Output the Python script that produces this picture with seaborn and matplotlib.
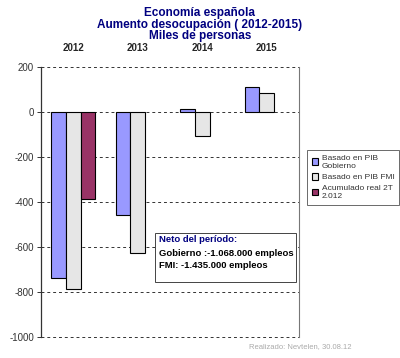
import numpy as np
import pandas as pd
import matplotlib
matplotlib.use("Agg")
import matplotlib.pyplot as plt
import seaborn as sns

years = ["2012", "2013", "2014", "2015"]
series = ["Basado en PIB\nGobierno", "Basado en PIB FMI", "Acumulado real 2T\n2.012"]
gobierno = [-736, -456, 13, 111]
fmi = [-787, -627, -105, 84]
acumulado = [-388, None, None, None]
colors = ["#9999FF", "#E6E6E6", "#993366"]
yticks = [200, 0, -200, -400, -600, -800, -1000]

rows = []
for s, vals in zip(series, [gobierno, fmi, acumulado]):
    for y, v in zip(years, vals):
        if v is not None:
            rows.append({"year": y, "serie": s, "value": v})
df = pd.DataFrame(rows)

sns.set_style("white")
plt.rcParams["font.family"] = ["Liberation Sans", "DejaVu Sans"]

fig = plt.figure(figsize=(4.0, 3.58), dpi=100)
ax = fig.add_axes([0.1025, 0.0587, 0.645, 0.7541])

sns.barplot(data=df, x="year", y="value", hue="serie", order=years,
            hue_order=series, palette=colors, width=0.675, dodge=True,
            edgecolor="black", linewidth=0.8, saturation=1, ax=ax, zorder=3)

ax.set_ylim(-1000, 200)
ax.set_xlim(-0.5, 3.5)
ax.set_yticks(yticks)
ax.set_yticklabels([str(t) for t in yticks], fontsize=7, color="#333333")
for t in yticks:
    ax.axhline(t, color="#333333", lw=0.7, ls=(0, (3, 3)), zorder=1, clip_on=False)
ax.xaxis.tick_top()
ax.tick_params(axis="x", length=0, pad=10, labelsize=7)
for lab in ax.get_xticklabels():
    lab.set_fontweight("bold")
ax.tick_params(axis="y", length=3, width=0.7, color="#333333", left=True, pad=2)
ax.set_xlabel("")
ax.set_ylabel("")
for sp in ["top", "bottom"]:
    ax.spines[sp].set_visible(False)
ax.spines["left"].set_color("#333333")
ax.spines["left"].set_linewidth(0.9)
ax.spines["right"].set_color("#777777")
ax.spines["right"].set_linewidth(0.8)

leg = ax.legend(loc="upper left", bbox_to_anchor=(307 / 400, 1 - 150 / 358),
                bbox_transform=fig.transFigure, fontsize=6,
                frameon=True, fancybox=False, edgecolor="#444444",
                handlelength=0.8, handleheight=0.8, handletextpad=0.4,
                labelspacing=0.45, borderpad=0.55, borderaxespad=0,
                labelcolor="#333333")
leg.get_frame().set_linewidth(0.7)

fig.text(0.5, 0.963, "Economía española", ha="center", va="center",
         fontsize=8.5, fontweight="bold", color="#000080")
fig.text(0.5, 0.931, "Aumento desocupación ( 2012-2015)", ha="center", va="center",
         fontsize=8.5, fontweight="bold", color="#000080")
fig.text(0.5, 0.899, "Miles de personas", ha="center", va="center",
         fontsize=8.5, fontweight="bold", color="#000080")

# annotation box
bx0, by0 = 155 / 400, 1 - 282 / 358
bw, bh = (296 - 155) / 400, (282 - 233) / 358
fig.patches.append(plt.Rectangle((bx0, by0), bw, bh, transform=fig.transFigure,
                                 facecolor="white", edgecolor="#444444", lw=0.7, zorder=5))
fig.text(159 / 400, 1 - 240 / 358, "Neto del período:", fontsize=6.8, fontweight="bold",
         color="#000080", va="center", zorder=6)
fig.text(159 / 400, 1 - 253 / 358, "Gobierno :-1.068.000 empleos", fontsize=6.8,
         fontweight="bold", color="black", va="center", zorder=6)
fig.text(159 / 400, 1 - 266 / 358, "FMI: -1.435.000 empleos", fontsize=6.8,
         fontweight="bold", color="black", va="center", zorder=6)

fig.text(300 / 400, 1 - 347 / 358, "Realizado: Nevtelen, 30.08.12", ha="center",
         va="center", fontsize=5.5, color="#aaaaaa")

fig.savefig("out.png", dpi=100)
